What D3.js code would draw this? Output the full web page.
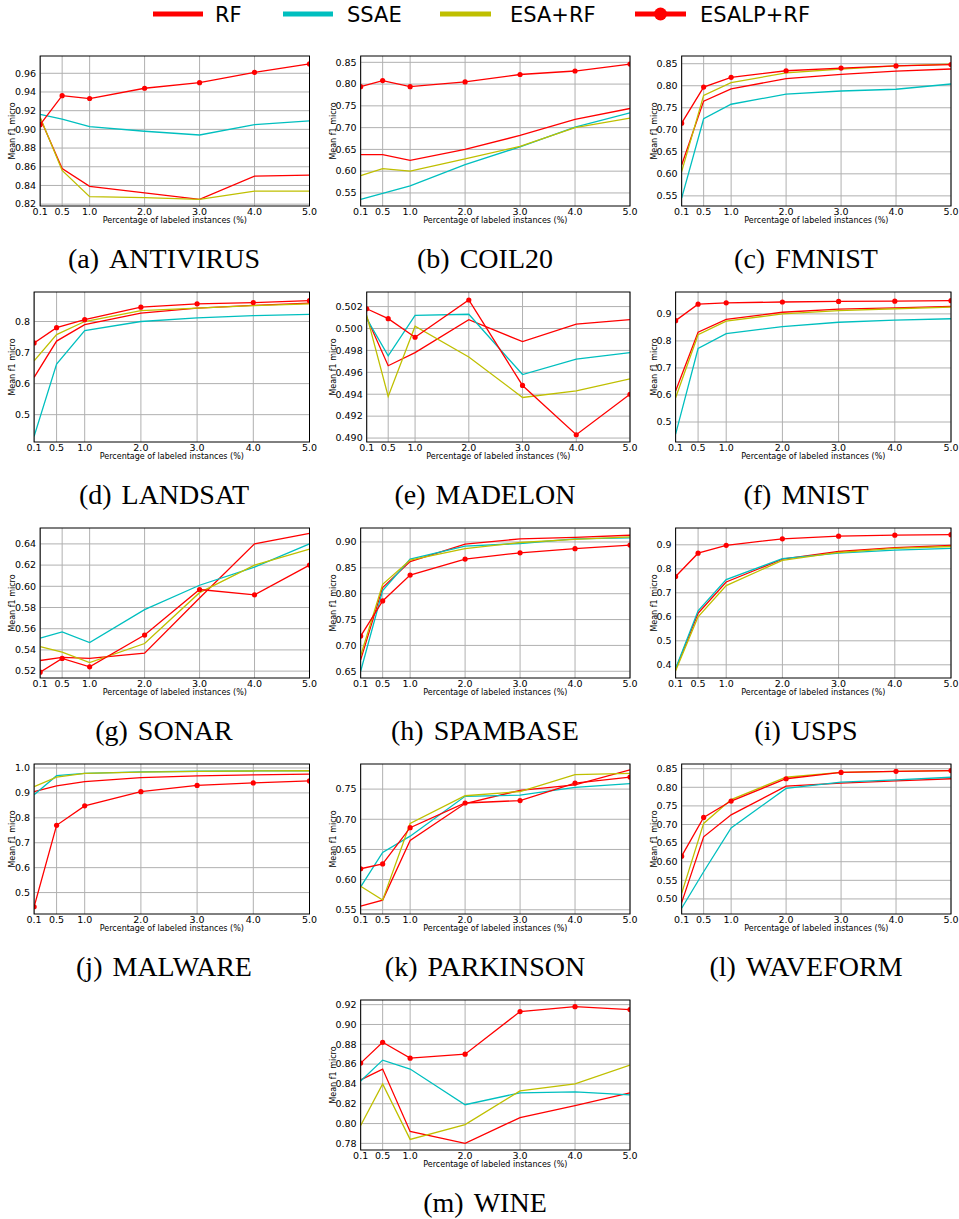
<!DOCTYPE html>
<html>
<head>
<meta charset="utf-8">
<script src="https://cdn.jsdelivr.net/npm/d3@7"></script>
<style>
  body { margin: 0; background: #fff; }
  svg { display: block; }
</style>
</head>
<body>
<div id="chart"></div>
<script>
// x values shared by every panel (percentage of labeled instances)
var percentages = [0.1, 0.5, 1.0, 2.0, 3.0, 4.0, 5.0];
var xTickLabels = ["0.1", "0.5", "1.0", "2.0", "3.0", "4.0", "5.0"];
var methods = ["RF", "SSAE", "ESA+RF", "ESALP+RF"];

// mean f1 micro per dataset, one array per method
var antivirus = {
  rf:    [0.912, 0.858, 0.839, 0.832, 0.825, 0.850, 0.851],
  ssae:  [0.916, 0.911, 0.903, 0.898, 0.894, 0.905, 0.909],
  esa:   [0.913, 0.856, 0.828, 0.827, 0.825, 0.834, 0.834],
  esalp: [0.905, 0.936, 0.933, 0.944, 0.950, 0.961, 0.970]
};
var coil20 = {
  rf:    [0.638, 0.638, 0.625, 0.650, 0.682, 0.719, 0.744],
  ssae:  [0.535, 0.549, 0.566, 0.615, 0.656, 0.701, 0.734],
  esa:   [0.590, 0.606, 0.600, 0.628, 0.657, 0.700, 0.722],
  esalp: [0.794, 0.808, 0.794, 0.805, 0.822, 0.830, 0.846]
};
var fmnist = {
  rf:    [0.620, 0.765, 0.793, 0.816, 0.826, 0.833, 0.838],
  ssae:  [0.545, 0.725, 0.758, 0.781, 0.788, 0.792, 0.804],
  esa:   [0.605, 0.778, 0.807, 0.829, 0.838, 0.845, 0.849],
  esalp: [0.715, 0.797, 0.819, 0.834, 0.840, 0.845, 0.848]
};
var landsat = {
  rf:    [0.620, 0.737, 0.790, 0.827, 0.843, 0.852, 0.859],
  ssae:  [0.430, 0.663, 0.771, 0.800, 0.812, 0.819, 0.823],
  esa:   [0.673, 0.758, 0.800, 0.835, 0.843, 0.851, 0.857],
  esalp: [0.731, 0.780, 0.806, 0.846, 0.857, 0.861, 0.867]
};
var madelon = {
  rf:    [0.5010, 0.4966, 0.4978, 0.5008, 0.4988, 0.5004, 0.5008],
  ssae:  [0.5009, 0.4975, 0.5012, 0.5013, 0.4958, 0.4972, 0.4978],
  esa:   [0.5012, 0.4938, 0.5002, 0.4974, 0.4937, 0.4943, 0.4954],
  esalp: [0.5018, 0.5009, 0.4992, 0.5026, 0.4948, 0.4903, 0.4940]
};
var mnist = {
  rf:    [0.615, 0.832, 0.880, 0.906, 0.918, 0.922, 0.928],
  ssae:  [0.455, 0.772, 0.827, 0.853, 0.869, 0.877, 0.882],
  esa:   [0.590, 0.823, 0.873, 0.900, 0.912, 0.919, 0.925],
  esalp: [0.875, 0.936, 0.941, 0.944, 0.946, 0.947, 0.949]
};
var sonar = {
  rf:    [0.530, 0.533, 0.532, 0.537, 0.589, 0.640, 0.650],
  ssae:  [0.551, 0.557, 0.547, 0.578, 0.601, 0.618, 0.640],
  esa:   [0.543, 0.538, 0.528, 0.546, 0.594, 0.620, 0.635],
  esalp: [0.519, 0.532, 0.524, 0.554, 0.597, 0.592, 0.620]
};
var spambase = {
  rf:    [0.672, 0.812, 0.862, 0.896, 0.906, 0.909, 0.913],
  ssae:  [0.650, 0.806, 0.867, 0.892, 0.897, 0.906, 0.908],
  esa:   [0.680, 0.818, 0.865, 0.887, 0.899, 0.905, 0.910],
  esalp: [0.718, 0.786, 0.836, 0.867, 0.879, 0.887, 0.894]
};
var usps = {
  rf:    [0.380, 0.615, 0.745, 0.840, 0.872, 0.888, 0.897],
  ssae:  [0.385, 0.625, 0.755, 0.842, 0.865, 0.878, 0.885],
  esa:   [0.375, 0.600, 0.730, 0.835, 0.868, 0.885, 0.893],
  esalp: [0.768, 0.865, 0.898, 0.925, 0.936, 0.940, 0.942]
};
var malware = {
  rf:    [0.905, 0.928, 0.945, 0.961, 0.968, 0.972, 0.975],
  ssae:  [0.893, 0.969, 0.978, 0.984, 0.987, 0.988, 0.989],
  esa:   [0.925, 0.963, 0.978, 0.983, 0.986, 0.988, 0.989],
  esalp: [0.443, 0.770, 0.848, 0.905, 0.930, 0.940, 0.948]
};
var parkinson = {
  rf:    [0.556, 0.566, 0.665, 0.726, 0.748, 0.757, 0.782],
  ssae:  [0.588, 0.645, 0.672, 0.738, 0.740, 0.753, 0.759],
  esa:   [0.589, 0.566, 0.693, 0.739, 0.746, 0.774, 0.776],
  esalp: [0.618, 0.626, 0.686, 0.727, 0.731, 0.760, 0.770]
};
var waveform = {
  rf:    [0.490, 0.667, 0.726, 0.803, 0.811, 0.817, 0.823],
  ssae:  [0.475, 0.573, 0.691, 0.797, 0.814, 0.820, 0.827],
  esa:   [0.515, 0.703, 0.767, 0.827, 0.840, 0.843, 0.845],
  esalp: [0.615, 0.719, 0.763, 0.823, 0.840, 0.843, 0.845]
};
var wine = {
  rf:    [0.844, 0.855, 0.792, 0.780, 0.806, 0.818, 0.831],
  ssae:  [0.843, 0.864, 0.855, 0.819, 0.831, 0.832, 0.829],
  esa:   [0.798, 0.840, 0.784, 0.799, 0.833, 0.840, 0.859],
  esalp: [0.861, 0.882, 0.866, 0.870, 0.913, 0.918, 0.915]
};

// panel settings: y range, tick step and label format
var panels = [
  {tag: "a", name: "ANTIVIRUS", data: antivirus, y: [0.818, 0.9785], step: 0.02, fmt: ".2f"},
  {tag: "b", name: "COIL20",    data: coil20,    y: [0.520, 0.8645], step: 0.05, fmt: ".2f"},
  {tag: "c", name: "FMNIST",    data: fmnist,    y: [0.527, 0.8675], step: 0.05, fmt: ".2f"},
  {tag: "d", name: "LANDSAT",   data: landsat,   y: [0.412, 0.895],  step: 0.1,  fmt: ".1f"},
  {tag: "e", name: "MADELON",   data: madelon,   y: [0.48964, 0.50333], step: 0.002, fmt: ".3f"},
  {tag: "f", name: "MNIST",     data: mnist,     y: [0.426, 0.981],  step: 0.1,  fmt: ".1f"},
  {tag: "g", name: "SONAR",     data: sonar,     y: [0.5135, 0.655], step: 0.02, fmt: ".2f"},
  {tag: "h", name: "SPAMBASE",  data: spambase,  y: [0.637, 0.927],  step: 0.05, fmt: ".2f"},
  {tag: "i", name: "USPS",      data: usps,      y: [0.345, 0.970],  step: 0.1,  fmt: ".1f"},
  {tag: "j", name: "MALWARE",   data: malware,   y: [0.414, 1.016],  step: 0.1,  fmt: ".1f"},
  {tag: "k", name: "PARKINSON", data: parkinson, y: [0.543, 0.7916], step: 0.05, fmt: ".2f"},
  {tag: "l", name: "WAVEFORM",  data: waveform,  y: [0.4595, 0.8626], step: 0.05, fmt: ".2f"},
  {tag: "m", name: "WINE",      data: wine,      y: [0.7733, 0.9247], step: 0.02, fmt: ".2f"}
];

var lineStyles = [
  {key: "rf",    color: "#ff0000", marker: false},
  {key: "ssae",  color: "#00bfbf", marker: false},
  {key: "esa",   color: "#bfbf00", marker: false},
  {key: "esalp", color: "#ff0000", marker: true}
];

var W = 959, H = 1219;
var colX = [0, 320.5, 641.5],
    rowTop = [56, 292, 528, 764, 1000],
    plotH = 150,
    captionX = [164, 485, 806];

var svg = d3.select("#chart").append("svg")
    .attr("width", W)
    .attr("height", H);

// Legend across the top
var legendItems = [
  {x1: 153, x2: 203, tx: 215},
  {x1: 283, x2: 333, tx: 347},
  {x1: 440, x2: 491, tx: 510},
  {x1: 635, x2: 686, tx: 700}
];
var legend = svg.append("g").attr("class", "legend");
legendItems.forEach(function(it, i) {
  var st = lineStyles[i];
  legend.append("line")
      .attr("x1", it.x1).attr("x2", it.x2)
      .attr("y1", 14).attr("y2", 14)
      .style("stroke", st.color)
      .style("stroke-width", 5);
  if (st.marker) {
    legend.append("circle")
        .attr("cx", (it.x1 + it.x2) / 2).attr("cy", 14).attr("r", 6.5)
        .style("fill", st.color);
  }
  legend.append("text")
      .attr("x", it.tx).attr("y", 21.5)
      .style("font-family", "DejaVu Sans")
      .style("font-size", "21px")
      .text(methods[i]);
});

// measure text width for the y tick labels
function textWidth(str, size) {
  var t = svg.append("text")
      .style("font-family", "DejaVu Sans")
      .style("font-size", size + "px")
      .text(str);
  var w = t.node().getComputedTextLength();
  t.remove();
  return w;
}

panels.forEach(function(p, i) {
  var row = Math.floor(i / 3), col = i % 3;
  if (i === 12) { row = 4; col = 1; }

  var fmt = d3.format(p.fmt);
  var k0 = Math.ceil(p.y[0] / p.step - 1e-6),
      k1 = Math.floor(p.y[1] / p.step + 1e-6);
  var yTicks = d3.range(k0, k1 + 1).map(function(k) { return +(k * p.step).toFixed(4); });

  var tickW = d3.max(yTicks, function(v) { return textWidth(fmt(v), 9.5); });
  var left = colX[col] + 15 + tickW + 4,
      right = colX[col] + 309.5,
      top = rowTop[row],
      bottom = top + plotH;

  var x = d3.scaleLinear().domain([0.1, 5.0]).range([left, right]);
  var y = d3.scaleLinear().domain(p.y).range([bottom, top]);

  var g = svg.append("g").attr("class", "panel panel-" + p.tag);

  // grid
  g.selectAll("line.xgrid").data(percentages).enter().append("line")
      .attr("class", "xgrid")
      .attr("x1", function(d) { return x(d); })
      .attr("x2", function(d) { return x(d); })
      .attr("y1", top).attr("y2", bottom)
      .style("stroke", "#b0b0b0").style("stroke-width", 1);
  g.selectAll("line.ygrid").data(yTicks).enter().append("line")
      .attr("class", "ygrid")
      .attr("x1", left).attr("x2", right)
      .attr("y1", function(d) { return y(d); })
      .attr("y2", function(d) { return y(d); })
      .style("stroke", "#b0b0b0").style("stroke-width", 1);

  // tick labels
  g.selectAll("text.xtick").data(percentages).enter().append("text")
      .attr("class", "xtick")
      .attr("x", function(d) { return x(d); })
      .attr("y", bottom + 9)
      .attr("text-anchor", "middle")
      .style("font-family", "DejaVu Sans")
      .style("font-size", "9.5px")
      .text(function(d, j) { return xTickLabels[j]; });
  g.selectAll("text.ytick").data(yTicks).enter().append("text")
      .attr("class", "ytick")
      .attr("x", left - 4)
      .attr("y", function(d) { return y(d); })
      .attr("dy", "0.35em")
      .attr("text-anchor", "end")
      .style("font-family", "DejaVu Sans")
      .style("font-size", "9.5px")
      .text(function(d) { return fmt(d); });

  // axis labels
  g.append("text")
      .attr("x", (left + right) / 2).attr("y", bottom + 17)
      .attr("text-anchor", "middle")
      .style("font-family", "DejaVu Sans")
      .style("font-size", "8px")
      .text("Percentage of labeled instances (%)");
  g.append("text")
      .attr("transform", "translate(" + (colX[col] + 15) + "," + ((top + bottom) / 2) + ") rotate(-90)")
      .attr("text-anchor", "middle")
      .style("font-family", "DejaVu Sans")
      .style("font-size", "8px")
      .text("Mean f1 micro");

  // series, clipped to the axes
  var clipId = "clip-" + p.tag;
  svg.append("clipPath").attr("id", clipId)
    .append("rect")
      .attr("x", left).attr("y", top)
      .attr("width", right - left).attr("height", bottom - top);

  var plot = g.append("g").attr("clip-path", "url(#" + clipId + ")");
  var line = d3.line()
      .x(function(d, j) { return x(percentages[j]); })
      .y(function(d) { return y(d); });

  lineStyles.forEach(function(st) {
    var vals = p.data[st.key];
    plot.append("path")
        .datum(vals)
        .attr("d", line)
        .style("fill", "none")
        .style("stroke", st.color)
        .style("stroke-width", 1.3);
    if (st.marker) {
      plot.selectAll("circle.m-" + st.key).data(vals).enter().append("circle")
          .attr("class", "m-" + st.key)
          .attr("cx", function(d, j) { return x(percentages[j]); })
          .attr("cy", function(d) { return y(d); })
          .attr("r", 2.6)
          .style("fill", st.color);
    }
  });

  // frame
  g.append("rect")
      .attr("x", left).attr("y", top)
      .attr("width", right - left).attr("height", bottom - top)
      .style("fill", "none")
      .style("stroke", "#000")
      .style("stroke-width", 1);

  // caption
  var cap = g.append("text")
      .attr("x", captionX[col]).attr("y", top + 211.5)
      .attr("text-anchor", "middle")
      .style("font-family", "Liberation Serif")
      .style("font-size", "28px");
  cap.append("tspan").text("(" + p.tag + ")");
  cap.append("tspan").attr("dx", 10).text(p.name);
});
</script>
</body>
</html>
